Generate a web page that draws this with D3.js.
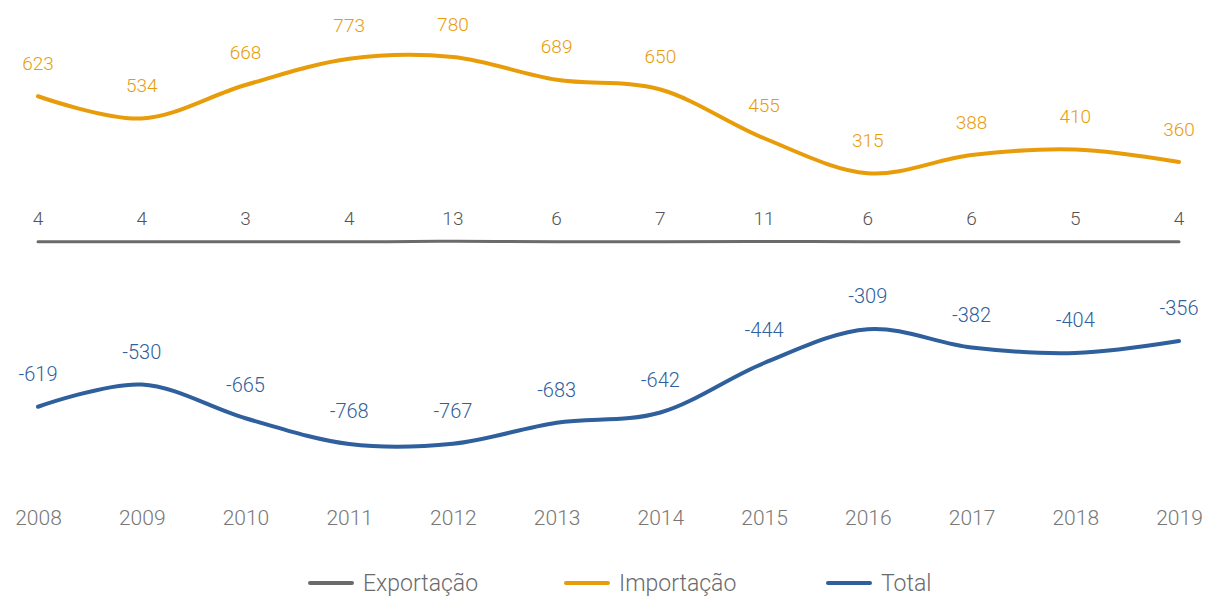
<!DOCTYPE html>
<html>
<head>
<meta charset="utf-8">
<script src="https://cdn.jsdelivr.net/npm/d3@7"></script>
<style>
  body { margin: 0; background: #fff; }
  svg { display: block; font-family: Roboto, "Open Sans", sans-serif; font-weight: 300; }
</style>
</head>
<body>
<div id="chart"></div>
<script>
// Data
const years = ["2008", "2009", "2010", "2011", "2012", "2013", "2014", "2015", "2016", "2017", "2018", "2019"];
const exportacao = [4, 4, 3, 4, 13, 6, 7, 11, 6, 6, 5, 4];
const importacao = [623, 534, 668, 773, 780, 689, 650, 455, 315, 388, 410, 360];
const total = [-619, -530, -665, -768, -767, -683, -642, -444, -309, -382, -404, -356];
const seriesNames = ["Exportação", "Importação", "Total"];

const width = 1206, height = 597;
const colors = { exp: "#6b6b6b", imp: "#e89c0a", tot: "#2f5f9c" };

const svg = d3.select("#chart").append("svg")
    .attr("width", width)
    .attr("height", height);

const x = d3.scalePoint().domain(years).range([38, 1179]);
const y = d3.scaleLinear().domain([-800, 800]).range([452, 52]);
// export sits on its own (secondary) axis, which keeps it almost flat
const y2 = d3.scaleLinear().domain([0, 4000]).range([242, 42]);

const curve = d3.curveCardinal.tension(0);

function drawLine(values, scale, color, w) {
    const line = d3.line()
        .x((d, i) => x(years[i]))
        .y(d => scale(d))
        .curve(curve);
    svg.append("path")
        .datum(values)
        .attr("d", line)
        .attr("fill", "none")
        .attr("stroke", color)
        .attr("stroke-width", w)
        .attr("stroke-linecap", "round");
}

function drawLabels(values, scale, color, offset, size) {
    svg.append("g")
        .selectAll("text")
        .data(values)
        .join("text")
        .attr("x", (d, i) => x(years[i]))
        .attr("y", d => scale(d) - offset)
        .attr("text-anchor", "middle")
        .attr("dominant-baseline", "central")
        .attr("fill", color)
        .style("font-size", size + "px")
        .text(d => d);
}

drawLine(exportacao, y2, colors.exp, 3);
drawLine(importacao, y, colors.imp, 4);
drawLine(total, y, colors.tot, 4);

drawLabels(exportacao, y2, "#555", 23, 19);
drawLabels(importacao, y, colors.imp, 33, 19);
drawLabels(total, y, colors.tot, 33, 20);

// year axis
const xAxis = d3.axisBottom(x).tickSize(0).tickPadding(0);
const gx = svg.append("g")
    .attr("transform", "translate(0,518)")
    .call(xAxis);
gx.select(".domain").remove();
gx.selectAll("text")
    .attr("dy", "0.35em")
    .attr("fill", "#777")
    .style("font-size", "21px")
    .style("font-family", "Roboto, sans-serif")
    .style("font-weight", 300);

// Legend
const legendX = [310, 566, 828];
const legendColors = [colors.exp, colors.imp, colors.tot];
const legend = svg.append("g")
    .selectAll("g")
    .data(seriesNames)
    .join("g")
    .attr("transform", (d, i) => `translate(${legendX[i]},583)`);

legend.append("line")
    .attr("x1", 0).attr("x2", 42)
    .attr("stroke", (d, i) => legendColors[i])
    .attr("stroke-width", 4)
    .attr("stroke-linecap", "round");

legend.append("text")
    .attr("x", 53)
    .attr("dominant-baseline", "central")
    .attr("fill", "#6b6b6b")
    .style("font-size", "23px")
    .text(d => d);
</script>
</body>
</html>
